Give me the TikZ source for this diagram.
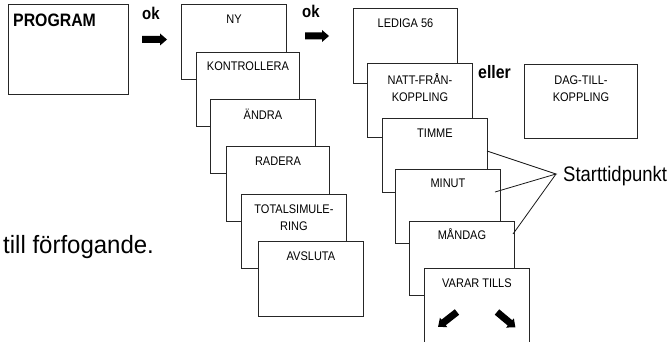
\documentclass[tikz,border=0pt]{standalone}
\usepackage{fontspec}
\setmainfont{Liberation Sans}[FakeStretch=0.88]
\newfontfamily\widerfont{Liberation Sans}[FakeStretch=0.96]
\newcommand{\myblockarrow}[4]{%
  \begin{scope}[shift={(#1,#2)}, rotate=#3]
    \fill[black] (0,-3.5) -- (#4-7,-3.5) -- (#4-7,-6) -- (#4,0) -- (#4-7,6) -- (#4-7,3.5) -- (0,3.5) -- cycle;
  \end{scope}}
\begin{document}
\begin{tikzpicture}[x=1pt, y=-1pt,
  box/.style={draw=black!85, fill=white, line width=0.9pt, anchor=north west, inner sep=0pt,
              minimum width=105pt, minimum height=75pt},
  boxtext/.style={font=\fontsize{12.5}{17}\selectfont, inner sep=0pt, anchor=base, align=center, text=black},
  boldtext/.style={font=\fontsize{#1}{#1}\selectfont\bfseries, inner sep=0pt, anchor=base west, text=black},
  plaintext/.style={font=\fontsize{#1}{#1}\selectfont, inner sep=0pt, anchor=base west, text=black},
  conn/.style={draw=black!90, line width=0.8pt}]
\clip (0,0) rectangle (672,342);
\useasboundingbox (0,0) rectangle (672,342);

% PROGRAM
\node[box, minimum width=120pt, minimum height=90pt] (prog) at (8,4) {};
\node[boldtext=18] (progt) at (13,27) {PROGRAM};
\node[boldtext=17] (ok1) at (142,20) {ok};
\myblockarrow{142}{39.5}{0}{25}

% menu stack
\node[box] (ny) at (181,4) {};
\node[boxtext] (nyt) at ([yshift=-19.5pt]ny.north) {NY};
\node[box, minimum width=103pt, minimum height=74pt] (kontr) at (196,52) {};
\node[boxtext] (kontrt) at ([yshift=-18.5pt]kontr.north) {KONTROLLERA};
\node[box, minimum height=74pt] (andra) at (210,99) {};
\node[boxtext] (andrat) at ([yshift=-20.5pt]andra.north) {ÄNDRA};
\node[box, minimum width=103pt] (radera) at (226,146) {};
\node[boxtext] (raderat) at ([yshift=-19.5pt]radera.north) {RADERA};
\node[box, minimum height=74pt] (total) at (241,194) {};
\node[boxtext] (totalt) at ([yshift=-36.5pt]total.north) {TOTALSIMULE-\\RING};
\node[box] (avsl) at (258,241) {};
\node[boxtext] (avslt) at ([yshift=-19.5pt]avsl.north) {AVSLUTA};

\node[boldtext=17] (ok2) at (302,18) {ok};
\myblockarrow{305}{36}{0}{24}

% second stack
\node[box, minimum width=104pt] (ledig) at (353,8) {};
\node[boxtext] (ledigt) at ([yshift=-19.5pt]ledig.north) {LEDIGA 56};
\node[box, minimum height=74pt] (natt) at (367,63) {};
\node[boxtext] (nattt) at ([yshift=-38.5pt]natt.north) {NATT-FRÅN-\\KOPPLING};
\node[boldtext=18] (eller) at (478,79) {eller};
\node[box, minimum width=113pt, minimum height=74pt] (dag) at (524,64) {};
\node[boxtext] (dagt) at ([yshift=-37.5pt]dag.north) {DAG-TILL-\\KOPPLING};
\node[box, minimum height=74pt] (timme) at (382,118) {};
\node[boxtext] (timmet) at ([yshift=-19.5pt]timme.north) {TIMME};
\node[box, minimum height=74pt] (minut) at (395,169) {};
\node[boxtext] (minutt) at ([yshift=-18.5pt]minut.north) {MINUT};
\node[box, minimum height=74pt] (mand) at (409,221) {};
\node[boxtext] (mandt) at ([yshift=-18.5pt]mand.north) {MÅNDAG};
\node[box, minimum height=85pt] (varar) at (424,268) {};
\node[boxtext] (varart) at ([yshift=-19.5pt]varar.north) {VARAR TILLS};
\myblockarrow{457}{312}{218}{24}
\myblockarrow{497}{312}{-40}{24}

% Starttidpunkt
\node[plaintext=21] (start) at (563,182) {Starttidpunkt};
\coordinate (apex) at (556,174);
\coordinate (c1) at (487,151);
\coordinate (c2) at (495,192);
\coordinate (c3) at (513,234);
\draw[conn] (c1) -- (apex) -- (c2);
\draw[conn] (apex) -- (c3);

% side text
\node[plaintext=25, font=\fontsize{25}{25}\widerfont] (till) at (3,253) {till förfogande.};
\end{tikzpicture}
\end{document}
